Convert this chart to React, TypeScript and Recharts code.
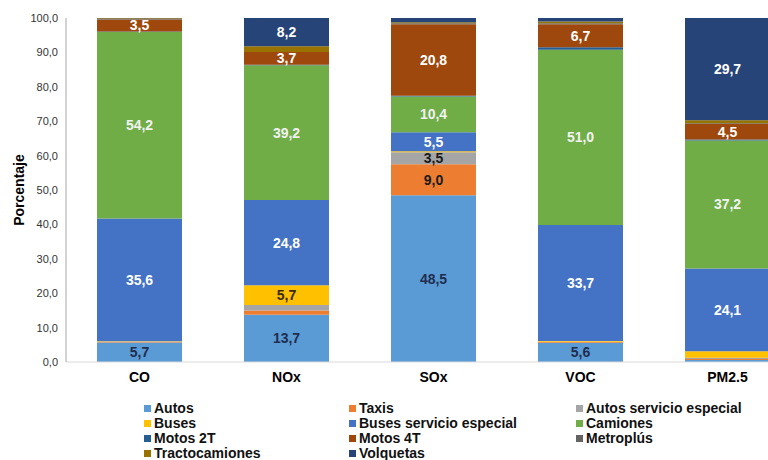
import React from 'react';
import { BarChart, Bar, XAxis, YAxis, LabelList } from 'recharts';

const categories = ['CO', 'NOx', 'SOx', 'VOC', 'PM2.5'];

// porcentaje por tipo de vehículo (de abajo hacia arriba)
const autos = [5.7, 13.7, 48.5, 5.6, 0.6];
const taxis = [0.1, 1.3, 9.0, 0.2, 0.3];
const autosEspecial = [0.2, 1.6, 3.5, 0.1, 0.3];
const buses = [0.1, 5.7, 0.3, 0.2, 1.9];
const busesEspecial = [35.6, 24.8, 5.5, 33.7, 24.1];
const camiones = [54.2, 39.2, 10.4, 51.0, 37.2];
const motos2T = [0.2, 0.1, 0.2, 0.7, 0.3];
const motos4T = [3.5, 3.7, 20.8, 6.7, 4.5];
const metroplus = [0.1, 0.0, 0.3, 0.3, 0.2];
const tractocamiones = [0.2, 1.7, 0.3, 0.5, 0.9];
const volquetas = [0.1, 8.2, 1.2, 1.0, 29.7];

const yTicks = [0, 10, 20, 30, 40, 50, 60, 70, 80, 90, 100];

const series = [
  { key: 'autos', name: 'Autos', values: autos, color: '#5B9BD5', label: '#1F2D4E' },
  { key: 'taxis', name: 'Taxis', values: taxis, color: '#ED7D31', label: '#1a1a1a' },
  { key: 'autosEspecial', name: 'Autos servicio especial', values: autosEspecial, color: '#A5A5A5', label: '#1a1a1a' },
  { key: 'buses', name: 'Buses', values: buses, color: '#FFC000', label: '#3a2a10' },
  { key: 'busesEspecial', name: 'Buses servicio especial', values: busesEspecial, color: '#4472C4', label: '#ffffff' },
  { key: 'camiones', name: 'Camiones', values: camiones, color: '#70AD47', label: '#f2f2f2' },
  { key: 'motos2T', name: 'Motos 2T', values: motos2T, color: '#255E91', label: '#ffffff' },
  { key: 'motos4T', name: 'Motos 4T', values: motos4T, color: '#9E480E', label: '#ffffff' },
  { key: 'metroplus', name: 'Metroplús', values: metroplus, color: '#636363', label: '#ffffff' },
  { key: 'tractocamiones', name: 'Tractocamiones', values: tractocamiones, color: '#997300', label: '#ffffff' },
  { key: 'volquetas', name: 'Volquetas', values: volquetas, color: '#264478', label: '#ffffff' },
];

const data = categories.map((name, i) => {
  const row: any = { name };
  series.forEach((s) => {
    row[s.key] = s.values[i];
  });
  return row;
});

const font = 'Arial, "Liberation Sans", sans-serif';
const fmt = (v: number) => v.toFixed(1).replace('.', ',');

// only segments big enough get a label
const makeLabel = (color: string) => (props: any) => {
  const { x, y, width, height, value } = props;
  if (value == null || value < 3) return null;
  return (
    <text
      x={x + width / 2}
      y={y + height / 2}
      fill={color}
      textAnchor="middle"
      dominantBaseline="central"
      fontSize={14}
      fontWeight="bold"
      fontFamily={font}
    >
      {fmt(value)}
    </text>
  );
};

const legendCols = [144, 349, 576];

const App: React.FC = () => {
  return (
    <div
      style={{
        position: 'absolute',
        left: 0,
        top: 0,
        width: 768,
        height: 460,
        overflow: 'hidden',
        background: '#fff',
        fontFamily: font,
      }}
    >
      <BarChart
        width={810}
        height={460}
        data={data}
        margin={{ top: 18, right: 9, left: 0, bottom: 68 }}
      >
        <XAxis
          dataKey="name"
          interval={0}
          height={30}
          tickLine={false}
          tickMargin={4}
          axisLine={{ stroke: '#d9d9d9' }}
          tick={{ fontSize: 14, fontWeight: 'bold', fill: '#000', fontFamily: font }}
        />
        <YAxis
          width={66}
          domain={[0, 100]}
          ticks={yTicks}
          allowDataOverflow
          tickLine={false}
          axisLine={{ stroke: '#a6a6a6' }}
          tickFormatter={fmt}
          tick={{ fontSize: 11, fill: '#333', fontFamily: font }}
          label={{
            value: 'Porcentaje',
            angle: -90,
            position: 'center',
            dx: -14,
            style: { fontSize: 14, fontWeight: 'bold', fill: '#000', fontFamily: font },
          }}
        />
        {series.map((s) => (
          <Bar
            key={s.key}
            dataKey={s.key}
            name={s.name}
            stackId="a"
            fill={s.color}
            barSize={85}
            isAnimationActive={false}
          >
            <LabelList dataKey={s.key} content={makeLabel(s.label)} />
          </Bar>
        ))}
      </BarChart>
      {series.map((s, i) => (
        <div
          key={s.key}
          style={{
            position: 'absolute',
            left: legendCols[i % 3],
            top: 400 + Math.floor(i / 3) * 15,
            display: 'flex',
            alignItems: 'center',
            fontSize: 14,
            fontWeight: 'bold',
            lineHeight: '16px',
            color: '#111',
            whiteSpace: 'nowrap',
          }}
        >
          <span
            style={{
              display: 'inline-block',
              width: 7,
              height: 7,
              background: s.color,
              marginRight: 3,
            }}
          />
          {s.name}
        </div>
      ))}
    </div>
  );
};

export default App;
